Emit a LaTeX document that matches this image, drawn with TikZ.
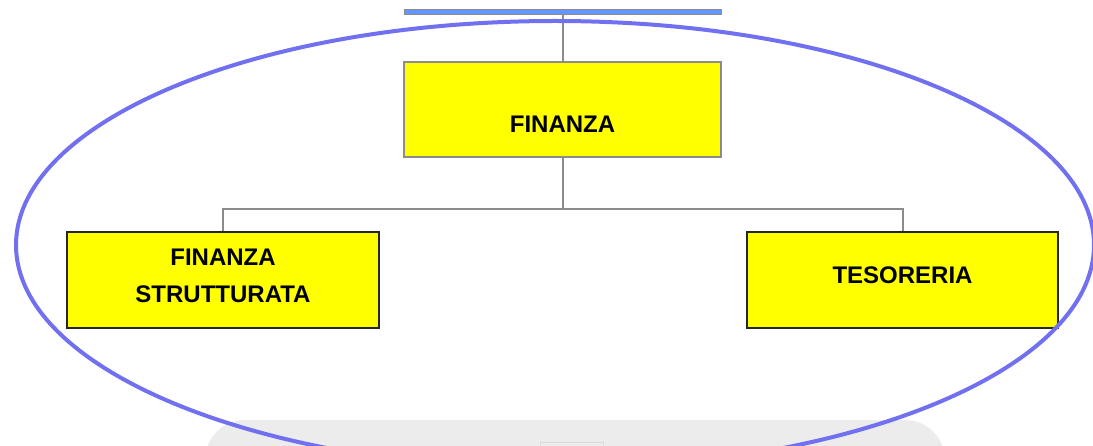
\documentclass[tikz,border=0pt]{standalone}
\usepackage{fontspec}
\setmainfont{Liberation Sans}
\usepackage{tikz}
\definecolor{boxyellow}{RGB}{255,255,0}
\definecolor{ovalblue}{RGB}{112,112,240}
\definecolor{barblue}{RGB}{100,150,255}
\definecolor{linegray}{RGB}{140,140,140}
\definecolor{shadegray}{RGB}{236,236,236}
\tikzstyle{orgbox} = [draw=black!85, line width=1.5pt, rectangle, fill=boxyellow, inner sep=0pt, minimum width=311pt, minimum height=96pt, text depth=9pt, align=center, font=\fontsize{24}{37}\selectfont\bfseries]
\tikzstyle{orgline} = [draw=linegray, line width=2pt]
\tikzstyle{topbar} = [draw=linegray, line width=1pt, rectangle, fill=barblue, inner sep=0pt, minimum width=317pt, minimum height=5pt]

\begin{document}
\begin{tikzpicture}[x=1pt, y=-1pt]
        \useasboundingbox (0,0) rectangle (1093,446);
        % shaded band at the bottom
        \fill[shadegray, rounded corners=40pt] (205,420) rectangle (945,490);
        \draw[black!15, fill=shadegray] (540,442) rectangle (603,470);

        \node [topbar] (head) at (562.5,12.5) {};
        \node [orgbox, draw=linegray, minimum width=317pt, minimum height=95pt, text height=47pt, text depth=0pt] (fin) at (562.5,109.5) {FINANZA};
        \node [orgbox, minimum width=312pt] (strutt) at (223,280) {FINANZA\\STRUTTURATA};
        \node [orgbox] (tes) at (902.5,280) {TESORERIA};

        \draw [orgline] (head.south) -- (fin.north);
        \draw [orgline] (fin.south) -- ++(0,51) -| (strutt.north);
        \draw [orgline] (fin.south) -- ++(0,51) -| (tes.north);

        \draw [ovalblue, line width=4pt] (555,245) ellipse [x radius=539pt, y radius=224pt];
    \end{tikzpicture}
\end{document}
